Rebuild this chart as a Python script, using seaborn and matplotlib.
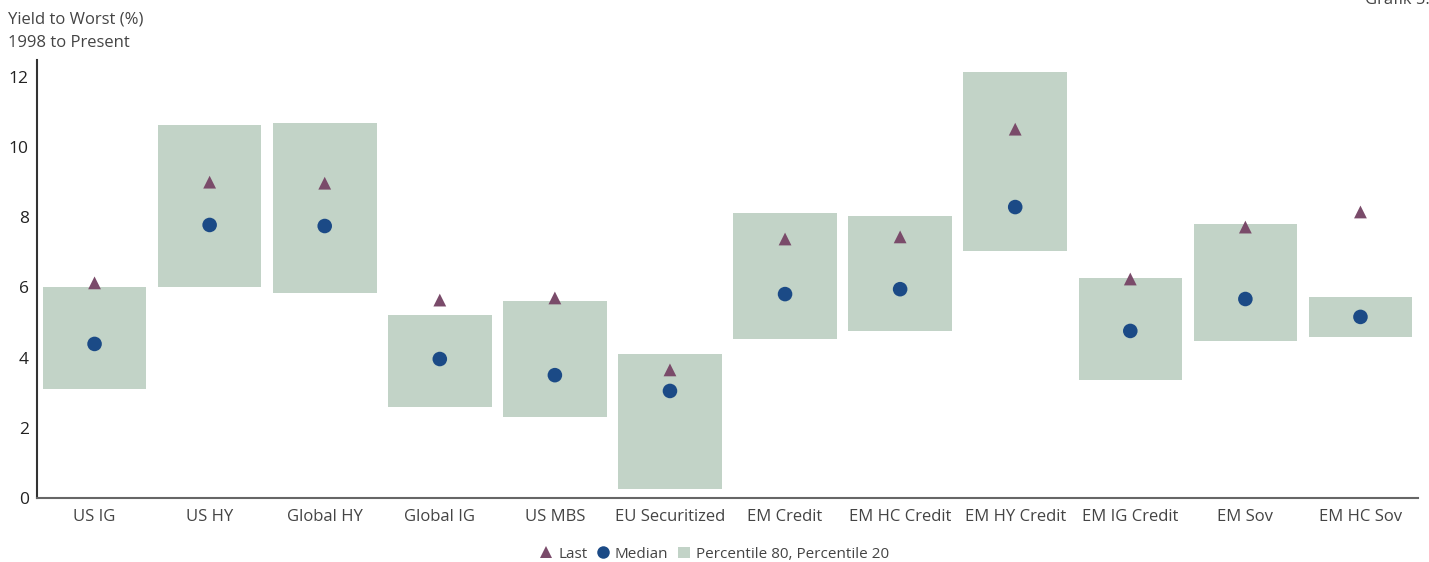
import matplotlib
matplotlib.use("Agg")
import matplotlib.pyplot as plt
from matplotlib.lines import Line2D
from matplotlib.patches import Patch
import numpy as np
import pandas as pd
import seaborn as sns

# Yield to worst by sector, 1998 to present (%)
categories = ["US IG", "US HY", "Global HY", "Global IG", "US MBS", "EU Securitized",
              "EM Credit", "EM HC Credit", "EM HY Credit", "EM IG Credit", "EM Sov", "EM HC Sov"]
pct80 = [6.01, 10.63, 10.68, 5.21, 5.61, 4.10, 8.12, 8.03, 12.14, 6.27, 7.81, 5.73]
pct20 = [3.11, 6.01, 5.84, 2.59, 2.31, 0.26, 4.53, 4.76, 7.04, 3.36, 4.47, 4.59]
median = [4.39, 7.78, 7.75, 3.96, 3.50, 3.05, 5.81, 5.95, 8.29, 4.76, 5.67, 5.16]
last = [6.13, 9.00, 8.97, 5.64, 5.70, 3.65, 7.38, 7.44, 10.51, 6.24, 7.72, 8.15]
y_ticks = [0, 2, 4, 6, 8, 10, 12]

BOX = "#c2d3c7"
MEDIAN_C = "#1b4a86"
LAST_C = "#7a4b6a"
TEXT_C = "#444444"

sns.set_theme(style="white")
plt.rcParams["font.family"] = ["Open Sans", "DejaVu Sans"]

df = pd.DataFrame({"category": categories, "p80": pct80, "p20": pct20,
                   "median": median, "last": last})
df["range"] = df["p80"] - df["p20"]

fig = plt.figure(figsize=(14.29, 5.62), dpi=100)
ax = fig.add_axes([0.0259, 0.1139, 0.9664, 0.7793])

# percentile 20-80 band as floating bars
ax.bar(df["category"], df["range"], bottom=df["p20"], width=0.9, color=BOX,
       edgecolor="none", zorder=1)
sns.scatterplot(data=df, x="category", y="median", ax=ax, marker="o", s=110,
                color=MEDIAN_C, edgecolor="none", zorder=3, legend=False)
sns.scatterplot(data=df, x="category", y="last", ax=ax, marker="^", s=85,
                color=LAST_C, edgecolor="none", zorder=3, legend=False)

n = len(categories)
ax.set_xlim(-0.5, n - 0.5)
ax.set_ylim(0, 12.48)
ax.set_yticks(y_ticks)
ax.set_yticklabels([str(t) for t in y_ticks])
ax.set_xlabel("")
ax.set_ylabel("")

# category labels centred, tick marks on the boundaries
ax.set_xticks(np.arange(n))
ax.set_xticklabels(categories)
ax.set_xticks(np.arange(n + 1) - 0.5, minor=True)
ax.tick_params(axis="x", which="major", length=0, pad=8, labelsize=12, labelcolor=TEXT_C)
ax.tick_params(axis="x", which="minor", direction="in", length=5, width=1.3, color="#555555")
ax.tick_params(axis="y", direction="in", length=5, width=1.3, color="#555555",
               pad=6, labelsize=12.5, labelcolor="#222222")

for side in ["top", "right"]:
    ax.spines[side].set_visible(False)
ax.spines["left"].set_color("#333333")
ax.spines["left"].set_linewidth(1.5)
ax.spines["bottom"].set_color("#666666")
ax.spines["bottom"].set_linewidth(1.5)
ax.grid(False)

fig.text(0.0056, 0.965, "Yield to Worst (%)", fontsize=12, color=TEXT_C, va="center", ha="left")
fig.text(0.0056, 0.923, "1998 to Present", fontsize=12, color=TEXT_C, va="center", ha="left")
fig.text(0.955, 1.0, "Grafik 5.", fontsize=12, color=TEXT_C, va="center", ha="left")

handles = [
    Line2D([], [], marker="^", linestyle="none", color=LAST_C, markersize=8, markeredgewidth=0),
    Line2D([], [], marker="o", linestyle="none", color=MEDIAN_C, markersize=9, markeredgewidth=0),
    Patch(facecolor=BOX, edgecolor="none"),
]
fig.legend(handles, ["Last", "Median", "Percentile 80, Percentile 20"],
           loc="center", bbox_to_anchor=(0.5, 0.014), ncol=3, frameon=False,
           fontsize=11, handlelength=0.8, handletextpad=0.4, columnspacing=0.6,
           labelcolor=TEXT_C)

fig.savefig("out.png", dpi=100)
